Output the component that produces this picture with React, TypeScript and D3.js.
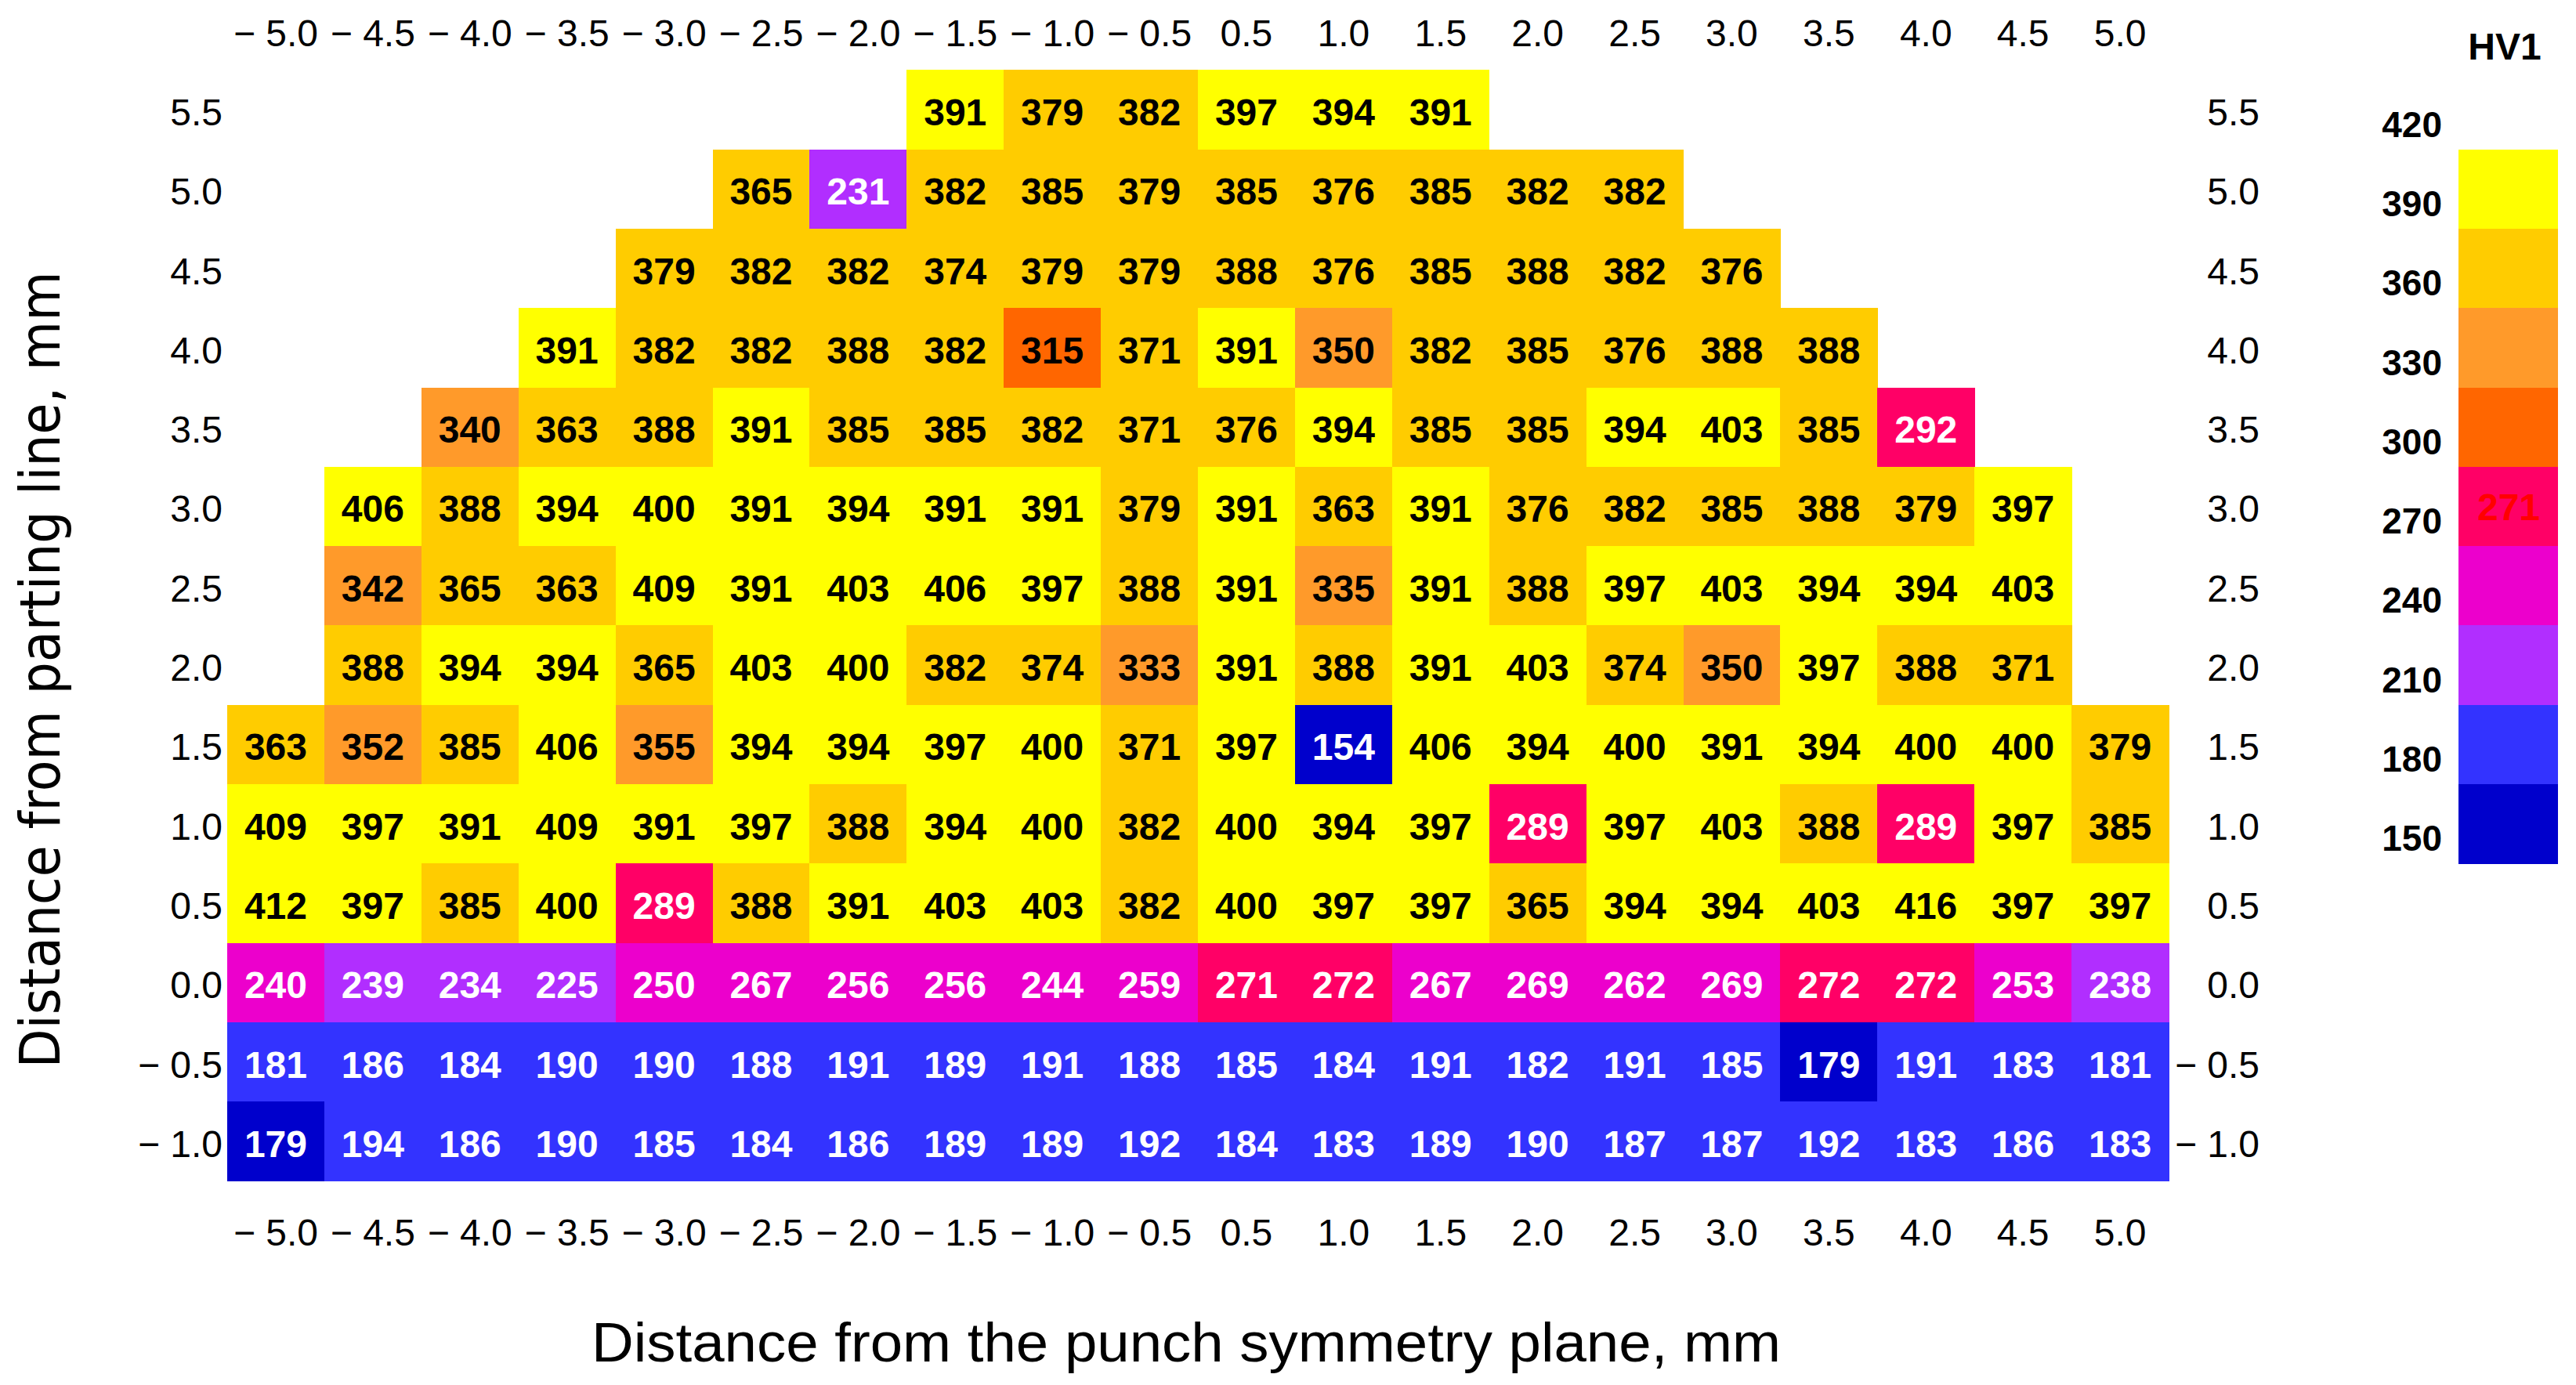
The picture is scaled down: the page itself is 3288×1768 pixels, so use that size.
import { useEffect, useRef } from "react";
import * as d3 from "d3";

// distance from punch symmetry plane (columns) and from parting line (rows), mm
const xPositions = [-5.0, -4.5, -4.0, -3.5, -3.0, -2.5, -2.0, -1.5, -1.0, -0.5, 0.5, 1.0, 1.5, 2.0, 2.5, 3.0, 3.5, 4.0, 4.5, 5.0];
const yPositions = [5.5, 5.0, 4.5, 4.0, 3.5, 3.0, 2.5, 2.0, 1.5, 1.0, 0.5, 0.0, -0.5, -1.0];

// HV1 per row, top row first; null = no measurement
const hv55 = [null, null, null, null, null, null, null, 391, 379, 382, 397, 394, 391, null, null, null, null, null, null, null];
const hv50 = [null, null, null, null, null, 365, 231, 382, 385, 379, 385, 376, 385, 382, 382, null, null, null, null, null];
const hv45 = [null, null, null, null, 379, 382, 382, 374, 379, 379, 388, 376, 385, 388, 382, 376, null, null, null, null];
const hv40 = [null, null, null, 391, 382, 382, 388, 382, 315, 371, 391, 350, 382, 385, 376, 388, 388, null, null, null];
const hv35 = [null, null, 340, 363, 388, 391, 385, 385, 382, 371, 376, 394, 385, 385, 394, 403, 385, 292, null, null];
const hv30 = [null, 406, 388, 394, 400, 391, 394, 391, 391, 379, 391, 363, 391, 376, 382, 385, 388, 379, 397, null];
const hv25 = [null, 342, 365, 363, 409, 391, 403, 406, 397, 388, 391, 335, 391, 388, 397, 403, 394, 394, 403, null];
const hv20 = [null, 388, 394, 394, 365, 403, 400, 382, 374, 333, 391, 388, 391, 403, 374, 350, 397, 388, 371, null];
const hv15 = [363, 352, 385, 406, 355, 394, 394, 397, 400, 371, 397, 154, 406, 394, 400, 391, 394, 400, 400, 379];
const hv10 = [409, 397, 391, 409, 391, 397, 388, 394, 400, 382, 400, 394, 397, 289, 397, 403, 388, 289, 397, 385];
const hv05 = [412, 397, 385, 400, 289, 388, 391, 403, 403, 382, 400, 397, 397, 365, 394, 394, 403, 416, 397, 397];
const hv00 = [240, 239, 234, 225, 250, 267, 256, 256, 244, 259, 271, 272, 267, 269, 262, 269, 272, 272, 253, 238];
const hvM05 = [181, 186, 184, 190, 190, 188, 191, 189, 191, 188, 185, 184, 191, 182, 191, 185, 179, 191, 183, 181];
const hvM10 = [179, 194, 186, 190, 185, 184, 186, 189, 189, 192, 184, 183, 189, 190, 187, 187, 192, 183, 186, 183];

const hvRows = [hv55, hv50, hv45, hv40, hv35, hv30, hv25, hv20, hv15, hv10, hv05, hv00, hvM05, hvM10];

// colour classes
const classBreaks = [180, 210, 240, 270, 300, 330, 360, 390];
const classColors = ["#0000cc", "#3333ff", "#b12eff", "#ec00cc", "#ff0066", "#ff6600", "#ff9a2a", "#ffcc00", "#ffff00"];
const legendTicks = [420, 390, 360, 330, 300, 270, 240, 210, 180, 150];

const FONT = "'Liberation Sans', Arial, sans-serif";

const key = (v: number) => v.toFixed(1);
const fmt = (k: string) => {
  const v = +k;
  return v < 0 ? "\u2212 " + Math.abs(v).toFixed(1) : v.toFixed(1);
};

export default function App() {
  const width = 3288;
  const height = 1768;

  const x = d3.scaleBand().domain(xPositions.map(key)).range([290, 2768]);
  const y = d3.scaleBand().domain(yPositions.map(key)).range([89.3, 1507.5]);
  const color = d3.scaleThreshold<number, string>().domain(classBreaks).range(classColors);
  const legendY = d3.scaleLinear().domain([420, 150]).range([190.6, 1102.3]);

  const topRef = useRef<SVGGElement>(null);
  const bottomRef = useRef<SVGGElement>(null);
  const leftRef = useRef<SVGGElement>(null);
  const rightRef = useRef<SVGGElement>(null);

  useEffect(() => {
    const styleAxis = (g: any) => {
      g.select(".domain").remove();
      g.selectAll("line").remove();
      g.selectAll("text").attr("font-family", FONT).attr("font-size", 48).attr("fill", "#000");
    };
    d3.select(topRef.current).call(d3.axisTop(x).tickSize(0).tickPadding(30).tickFormat(fmt) as any).call(styleAxis);
    d3.select(bottomRef.current)
      .call(d3.axisBottom(x).tickSize(0).tickPadding(48).tickFormat(fmt) as any)
      .call(styleAxis);
    d3.select(leftRef.current)
      .call(d3.axisLeft(y).tickSize(0).tickPadding(6).tickFormat(fmt) as any)
      .call(styleAxis)
      .selectAll("text")
      .attr("dy", 20);
    d3.select(rightRef.current)
      .call(d3.axisRight(y).tickSize(0).tickFormat(fmt) as any)
      .call(styleAxis)
      .selectAll("text")
      .attr("text-anchor", "end")
      .attr("x", 116)
      .attr("dy", 20);
  }, []);

  const cells: { xk: string; yk: string; v: number }[] = [];
  hvRows.forEach((row, i) =>
    row.forEach((v, j) => {
      if (v != null) cells.push({ xk: key(xPositions[j]), yk: key(yPositions[i]), v });
    })
  );

  const yTop = y.range()[0];
  const yBottom = y.range()[1];

  return (
    <svg width={width} height={height} style={{ position: "absolute", left: 0, top: 0, background: "#fff" }}>
      <g shapeRendering="crispEdges">
        {cells.map((c, i) => (
          <rect key={i} x={x(c.xk)} y={y(c.yk)} width={x.bandwidth() + 0.5} height={y.bandwidth() + 0.5} fill={color(c.v)} />
        ))}
      </g>
      <g fontFamily={FONT} fontWeight="bold" fontSize={48} textAnchor="middle">
        {cells.map((c, i) => (
          <text
            key={i}
            x={(x(c.xk) as number) + x.bandwidth() / 2}
            y={(y(c.yk) as number) + y.bandwidth() / 2 + 20}
            fill={c.v < 300 ? "#fff" : "#000"}
          >
            {c.v}
          </text>
        ))}
      </g>

      <g ref={topRef} transform={`translate(0,${yTop})`} />
      <g ref={bottomRef} transform={`translate(0,${yBottom})`} />
      <g ref={leftRef} transform={`translate(${x.range()[0]},0)`} />
      <g ref={rightRef} transform={`translate(${x.range()[1]},0)`} />

      <text x={1514} y={1738} fontFamily={FONT} fontSize={70} textAnchor="middle" textLength={1518} lengthAdjust="spacingAndGlyphs">
        Distance from the punch symmetry plane, mm
      </text>
      <text
        transform="translate(76,855) rotate(-90)"
        fontFamily="'DejaVu Sans', sans-serif"
        fontSize={72}
        textAnchor="middle"
        textLength={1017}
        lengthAdjust="spacingAndGlyphs"
      >
        Distance from parting line, mm
      </text>

      {/* legend */}
      <text x={3197} y={76} fontFamily={FONT} fontWeight="bold" fontSize={48} textAnchor="middle">
        HV1
      </text>
      <g shapeRendering="crispEdges">
        {classColors
          .slice()
          .reverse()
          .map((c, i) => {
            const hi = legendTicks[i];
            const lo = legendTicks[i + 1];
            return <rect key={c} x={3138} y={legendY(hi)} width={127} height={legendY(lo) - legendY(hi) + 0.5} fill={c} />;
          })}
      </g>
      <g fontFamily={FONT} fontWeight="bold" fontSize={46} textAnchor="end">
        {legendTicks.map((t) => (
          <text key={t} x={3117} y={legendY(t) - 32 + 16}>
            {t}
          </text>
        ))}
      </g>
      <text x={3202} y={(legendY(300) + legendY(270)) / 2 + 18} fontFamily={FONT} fontWeight="bold" fontSize={48} textAnchor="middle" fill="#ff0000">
        271
      </text>
    </svg>
  );
}
